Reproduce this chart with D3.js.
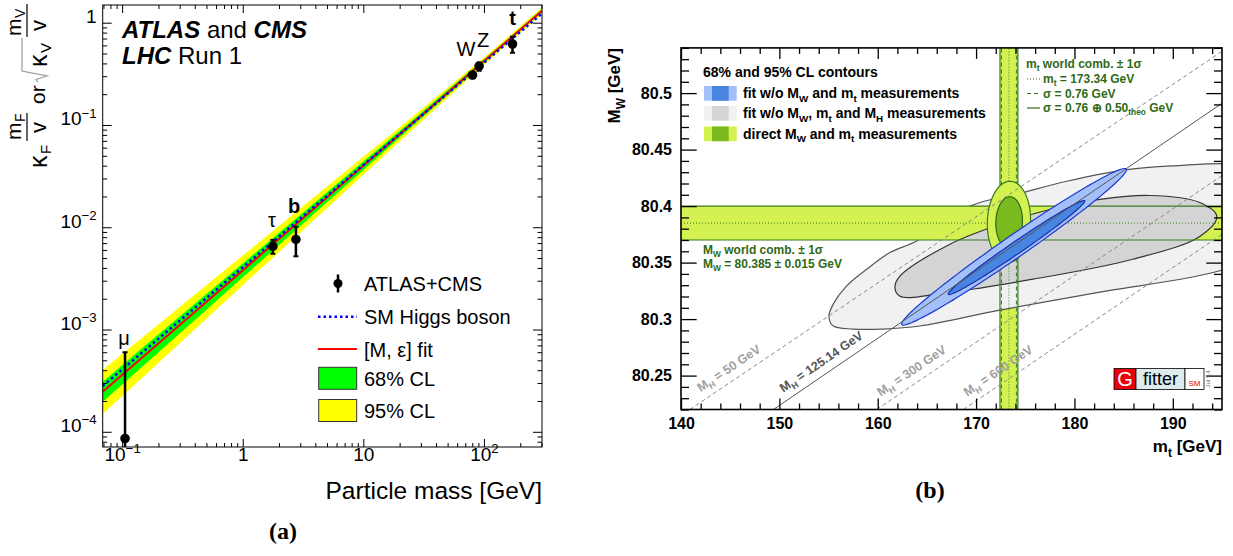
<!DOCTYPE html>
<html>
<head>
<meta charset="utf-8">
<script src="https://cdn.jsdelivr.net/npm/d3@7/dist/d3.min.js"></script>
<style>
html,body{margin:0;padding:0;background:#fff;}
svg{display:block;}
</style>
</head>
<body>
<svg id="chart" width="1233" height="556" xmlns="http://www.w3.org/2000/svg"></svg>
<script>
// ================= Panel (a) data =================
const particleNames = ["μ", "τ", "b", "W", "Z", "t"];
const particleMass = [0.1057, 1.777, 2.76, 80.39, 91.19, 172.5];
const particleCoupling = [8.6e-5, 6.5e-3, 7.6e-3, 0.308, 0.377, 0.619];
const couplingHi = [6.0e-4, 7.5e-3, 1.01e-2, 0.330, 0.406, 0.730];
const couplingLo = [5.0e-5, 5.5e-3, 5.2e-3, 0.286, 0.340, 0.509];
const particleLabelBold = [false, false, true, false, false, true];
const bandMass = [0.06, 0.3, 1, 3, 10, 30, 100, 350];
const band95Lo = [1.29e-4, 7.36e-4, 2.71e-3, 8.89e-3, 3.27e-2, 0.1067, 0.386, 1.41];
const band95Hi = [3.51e-4, 1.656e-3, 5.28e-3, 1.524e-2, 4.88e-2, 0.1413, 0.458, 1.632];
const band68Lo = [1.69e-4, 9.12e-4, 3.24e-3, 1.026e-2, 3.63e-2, 0.1148, 0.404, 1.466];
const band68Hi = [2.68e-4, 1.337e-3, 4.43e-3, 1.321e-2, 4.39e-2, 0.1312, 0.4385, 1.568];
const fitM = 233, fitEps = 0.023, vev = 246.22;
const massDomain = [0.069, 303];
const couplingDomain = [7.1e-5, 1.49];
const massTicks = [0.1, 1, 10, 100];
const massTickBase = ["10", "1", "10", "10"];
const massTickExp = ["−1", "", "", "2"];
const couplingTicks = [1e-4, 1e-3, 1e-2, 1e-1, 1];
const couplingTickBase = ["10", "10", "10", "10", "1"];
const couplingTickExp = ["−4", "−3", "−2", "−1", ""];
const legendALabels = ["ATLAS+CMS", "SM Higgs boson", "[M, ε] fit", "68% CL", "95% CL"];

// ================= Panel (b) data =================
const mtDomain = [140, 195];
const mwDomain = [80.22, 80.54];
const mtTicks = [140, 150, 160, 170, 180, 190];
const mwTicks = [80.25, 80.3, 80.35, 80.4, 80.45, 80.5];
const mwTickLabels = ["80.25", "80.3", "80.35", "80.4", "80.45", "80.5"];
const mwWorld = 80.385, mwWorldErr = 0.015;
const mtWorld = 173.34, mtErrExp = 0.76, mtErrTheo = 0.50;
const higgsLabels = ["50", "125.14", "300", "600"];
const higgsStartMt = [140.9, 149.4, 159.9, 168.7];
const higgsEndMw = [80.537, 80.491, 80.427, 80.375];
const higgsLabelMt = [142.0, 150.4, 160.3, 169.1];
const higgsSolid = [false, true, false, false];
const gray95 = [[155.04,80.3026],[155.48,80.3133],[156.84,80.3294],[158.87,80.3441],[161.24,80.3589],[163.95,80.3691],[169.4,80.400],[174.76,80.412],[179.23,80.422],[185.33,80.4323],[191.02,80.4361],[194.98,80.4376],[198.8,80.436],[201.9,80.406],[199.9,80.362],[194.98,80.3432],[182.58,80.3239],[172.42,80.3080],[164.29,80.2939],[160.53,80.2912],[157.48,80.2912],[155.45,80.2941]];
const gray68 = [[161.75,80.328],[162.26,80.338],[167.34,80.3662],[172.42,80.3838],[177.5,80.397],[182.58,80.4059],[187.66,80.4094],[192.74,80.4032],[194.47,80.3909],[192.74,80.3732],[185.93,80.353],[175.77,80.3353],[167.34,80.3239],[162.26,80.3203]];
const blue95 = {mt: 173.86, mw: 80.364, sMt: 11.43, sMw: 0.0693, rho: 0.985};
const blue68 = {mt: 174.11, mw: 80.3633, sMt: 6.94, sMw: 0.0416, rho: 0.988};
const direct95 = {mt: 173.34, mw: 80.386, sMt: 2.2, sMw: 0.036, rho: 0.05};
const direct68 = {mt: 173.36, mw: 80.3858, sMt: 1.355, sMw: 0.0225, rho: 0.05};

// ================= helpers =================
const FONT = "'Liberation Sans', Arial, Helvetica, sans-serif";
const svg = d3.select("#chart");
const defs = svg.append("defs");

function rich(sel, parts, size) {
  let shift = 0;
  parts.forEach(p => {
    const target = p.sub ? 0.28 * size : (p.sup ? -0.42 * size : 0);
    const ts = sel.append("tspan").text(p.t).attr("dy", target - shift);
    if (p.sub || p.sup) ts.attr("font-size", size * 0.7);
    if (p.fill) ts.attr("fill", p.fill);
    if (p.weight) ts.attr("font-weight", p.weight);
    if (p.italic) ts.attr("font-style", "italic");
    shift = target;
  });
  return sel;
}
function vtext(g, x, y, str, size, extra) {
  const t = g.append("text").attr("transform", `translate(${x},${y}) rotate(-90)`)
    .attr("font-family", FONT).attr("font-size", size).text(str);
  if (extra) Object.entries(extra).forEach(([k, v]) => t.attr(k, v));
  return t;
}

// ================= Panel (a) =================
const gA = svg.append("g");
const xA = d3.scaleLog().domain(massDomain).range([102.7, 542]);
const yA = d3.scaleLog().domain(couplingDomain).range([447, 5]);
defs.append("clipPath").attr("id", "clipA").append("rect")
  .attr("x", xA.range()[0]).attr("y", yA.range()[1])
  .attr("width", xA.range()[1] - xA.range()[0]).attr("height", yA.range()[0] - yA.range()[1]);
const plotA = gA.append("g").attr("clip-path", "url(#clipA)");
const bandIdx = d3.range(bandMass.length);
const area95 = d3.area().x(i => xA(bandMass[i])).y0(i => yA(band95Lo[i])).y1(i => yA(band95Hi[i])).curve(d3.curveMonotoneX);
const area68 = d3.area().x(i => xA(bandMass[i])).y0(i => yA(band68Lo[i])).y1(i => yA(band68Hi[i])).curve(d3.curveMonotoneX);
plotA.append("path").attr("d", area95(bandIdx)).attr("fill", "#ffff00");
plotA.append("path").attr("d", area68(bandIdx)).attr("fill", "#00ff00");
const fitFn = m => Math.pow(m / fitM, 1 + fitEps);
const smFn = m => m / vev;
plotA.append("line").attr("x1", xA(massDomain[0])).attr("y1", yA(fitFn(massDomain[0])))
  .attr("x2", xA(massDomain[1])).attr("y2", yA(fitFn(massDomain[1])))
  .attr("stroke", "#ff0000").attr("stroke-width", 2);
plotA.append("line").attr("x1", xA(massDomain[0])).attr("y1", yA(smFn(massDomain[0])))
  .attr("x2", xA(massDomain[1])).attr("y2", yA(smFn(massDomain[1])))
  .attr("stroke", "#0000ff").attr("stroke-width", 2.5).attr("stroke-dasharray", "2.5,3");
// data points
particleMass.forEach((m, i) => {
  const x = xA(m);
  plotA.append("line").attr("x1", x).attr("x2", x).attr("y1", yA(couplingLo[i])).attr("y2", yA(couplingHi[i]))
    .attr("stroke", "#000").attr("stroke-width", 2.5);
  [couplingLo[i], couplingHi[i]].forEach(v => plotA.append("line").attr("x1", x - 2.5).attr("x2", x + 2.5)
    .attr("y1", yA(v)).attr("y2", yA(v)).attr("stroke", "#000").attr("stroke-width", 2));
  plotA.append("circle").attr("cx", x).attr("cy", yA(particleCoupling[i])).attr("r", 4.8).attr("fill", "#000");
});
// particle labels
const particleLabelPos = [[124, 345], [272, 227], [294, 213], [466, 56], [483, 47], [512.5, 25]];
particleNames.forEach((n, i) => {
  gA.append("text").attr("x", particleLabelPos[i][0]).attr("y", particleLabelPos[i][1])
    .attr("text-anchor", "middle").attr("font-family", FONT).attr("font-size", 20)
    .attr("font-weight", particleLabelBold[i] ? "bold" : "normal").text(n);
});
// axes (a)
function majorMinorA(axisGen, scale, majors, sizeMaj, sizeMin, transform, withLabels) {
  const minors = scale.ticks().filter(v => !majors.some(M => Math.abs(M - v) / M < 1e-6));
  const g1 = gA.append("g").attr("transform", transform)
    .call(axisGen(scale).tickValues(minors).tickSize(-sizeMin).tickFormat(""));
  const g2 = gA.append("g").attr("transform", transform)
    .call(axisGen(scale).tickValues(majors).tickSize(-sizeMaj).tickPadding(withLabels ? withLabels : 3).tickFormat(""));
  [g1, g2].forEach(g => { g.select(".domain").remove(); g.selectAll("line").attr("stroke", "#000"); });
  return g2;
}
const axBottomA = majorMinorA(d3.axisBottom, xA, massTicks, 8, 4, `translate(0,${yA.range()[0]})`, 14);
majorMinorA(d3.axisTop, xA, massTicks, 8, 4, `translate(0,${yA.range()[1]})`);
const axLeftA = majorMinorA(d3.axisLeft, yA, couplingTicks, 9, 4.5, `translate(${xA.range()[0]},0)`, 6);
majorMinorA(d3.axisRight, yA, couplingTicks, 9, 4.5, `translate(${xA.range()[1]},0)`);
axBottomA.selectAll(".tick text").each(function (d, i) {
  const t = d3.select(this).attr("font-family", FONT).attr("font-size", 19).attr("fill", "#000");
  rich(t, massTickExp[i] ? [{t: massTickBase[i]}, {t: massTickExp[i], sup: true}] : [{t: massTickBase[i]}], 19);
});
axLeftA.selectAll(".tick text").each(function (d, i) {
  const t = d3.select(this).attr("font-family", FONT).attr("font-size", 19).attr("fill", "#000");
  rich(t, couplingTickExp[i] ? [{t: couplingTickBase[i]}, {t: couplingTickExp[i], sup: true}] : [{t: couplingTickBase[i]}], 19);
});
gA.append("rect").attr("x", xA.range()[0]).attr("y", yA.range()[1])
  .attr("width", xA.range()[1] - xA.range()[0]).attr("height", yA.range()[0] - yA.range()[1])
  .attr("fill", "none").attr("stroke", "#000").attr("stroke-width", 1);
// titles (a)
rich(gA.append("text").attr("x", 122).attr("y", 38).attr("font-family", FONT).attr("font-size", 24),
  [{t: "ATLAS", weight: "bold", italic: true}, {t: " and "}, {t: "CMS", weight: "bold", italic: true}], 24);
rich(gA.append("text").attr("x", 122).attr("y", 64).attr("font-family", FONT).attr("font-size", 24),
  [{t: "LHC", weight: "bold", italic: true}, {t: "  Run 1"}], 24);
gA.append("text").attr("x", 542).attr("y", 499).attr("text-anchor", "end")
  .attr("font-family", FONT).attr("font-size", 24.5).text("Particle mass [GeV]");
// y title (a)
vtext(gA, 47, 168, "κ", 25);
vtext(gA, 51, 154, "F", 15);
vtext(gA, 21, 140, "m", 21);
vtext(gA, 25, 122, "F", 14);
gA.append("line").attr("x1", 27).attr("x2", 27).attr("y1", 113).attr("y2", 141).attr("stroke", "#000").attr("stroke-width", 1.2);
vtext(gA, 46, 133, "v", 22);
vtext(gA, 45, 104, "or", 21);
gA.append("path").attr("d", "M38,82 L36,79.5 L47,76 L22,71 L22,38").attr("fill", "none").attr("stroke", "#999").attr("stroke-width", 1.2);
vtext(gA, 47, 67, "κ", 25);
vtext(gA, 51, 53, "V", 15);
vtext(gA, 21, 36, "m", 21);
vtext(gA, 25, 18, "V", 14);
gA.append("line").attr("x1", 27).attr("x2", 27).attr("y1", 4).attr("y2", 37).attr("stroke", "#000").attr("stroke-width", 1.2);
vtext(gA, 46, 31, "v", 22);
// legend (a)
const legAY = [283.5, 316.7, 349, 378.3, 410.5];
legAY.forEach((y, i) => {
  gA.append("text").attr("x", 364).attr("y", y + 7.5).attr("font-family", FONT).attr("font-size", 20).text(legendALabels[i]);
});
gA.append("line").attr("x1", 338).attr("x2", 338).attr("y1", legAY[0] - 9).attr("y2", legAY[0] + 9).attr("stroke", "#000").attr("stroke-width", 2.5);
gA.append("circle").attr("cx", 338).attr("cy", legAY[0]).attr("r", 4.5).attr("fill", "#000");
gA.append("line").attr("x1", 318).attr("x2", 357).attr("y1", legAY[1]).attr("y2", legAY[1]).attr("stroke", "#0000ff").attr("stroke-width", 2.5).attr("stroke-dasharray", "2.5,3");
gA.append("line").attr("x1", 318).attr("x2", 357).attr("y1", legAY[2]).attr("y2", legAY[2]).attr("stroke", "#ff0000").attr("stroke-width", 2);
gA.append("rect").attr("x", 318.7).attr("y", legAY[3] - 11).attr("width", 38).attr("height", 22).attr("fill", "#00ff00").attr("stroke", "#333").attr("stroke-width", 1);
gA.append("rect").attr("x", 318.7).attr("y", legAY[4] - 11).attr("width", 38).attr("height", 22).attr("fill", "#ffff00").attr("stroke", "#333").attr("stroke-width", 1);
gA.append("text").attr("x", 283).attr("y", 539).attr("text-anchor", "middle").attr("font-family", "'Liberation Serif', 'DejaVu Serif', serif").attr("font-weight", "bold").attr("font-size", 24).text("(a)");

// ================= Panel (b) =================
const gB = svg.append("g");
const xB = d3.scaleLinear().domain(mtDomain).range([681, 1222]);
const yB = d3.scaleLinear().domain(mwDomain).range([409.5, 47.9]);
defs.append("clipPath").attr("id", "clipB").append("rect")
  .attr("x", xB.range()[0]).attr("y", yB.range()[1])
  .attr("width", xB.range()[1] - xB.range()[0]).attr("height", yB.range()[0] - yB.range()[1]);
const plotB = gB.append("g").attr("clip-path", "url(#clipB)");
const YG_LIGHT = "#d3f150", YG_DARK = "#7bba1e", GREEN_LINE = "#3a7a1f", GREEN_TEXT = "#2f6a16";
const mtErrTot = Math.sqrt(mtErrExp * mtErrExp + mtErrTheo * mtErrTheo);
// vertical band (mt)
plotB.append("rect").attr("x", xB(mtWorld - mtErrTot)).attr("y", yB.range()[1])
  .attr("width", xB(mtWorld + mtErrTot) - xB(mtWorld - mtErrTot)).attr("height", yB.range()[0] - yB.range()[1]).attr("fill", YG_LIGHT);
// gray contours
const closedLine = d3.line().x(d => xB(d[0])).y(d => yB(d[1])).curve(d3.curveCatmullRomClosed.alpha(0.5));
plotB.append("path").attr("d", closedLine(gray95)).attr("fill", "#f1f1f1").attr("stroke", "#555").attr("stroke-width", 1.2);
// horizontal band (MW)
plotB.append("rect").attr("x", xB.range()[0]).attr("y", yB(mwWorld + mwWorldErr))
  .attr("width", xB.range()[1] - xB.range()[0]).attr("height", yB(mwWorld - mwWorldErr) - yB(mwWorld + mwWorldErr)).attr("fill", YG_LIGHT);
plotB.append("path").attr("d", closedLine(gray68)).attr("fill", "#d4d4d4").attr("stroke", "#333").attr("stroke-width", 1.2);
// band lines
[mwWorld - mwWorldErr, mwWorld + mwWorldErr].forEach(v => plotB.append("line").attr("x1", xB.range()[0]).attr("x2", xB.range()[1])
  .attr("y1", yB(v)).attr("y2", yB(v)).attr("stroke", GREEN_LINE).attr("stroke-width", 1.2));
plotB.append("line").attr("x1", xB.range()[0]).attr("x2", xB.range()[1]).attr("y1", yB(mwWorld)).attr("y2", yB(mwWorld))
  .attr("stroke", GREEN_LINE).attr("stroke-width", 1).attr("stroke-dasharray", "1,2");
[mtWorld - mtErrTot, mtWorld + mtErrTot].forEach(v => plotB.append("line").attr("y1", yB.range()[0]).attr("y2", yB.range()[1])
  .attr("x1", xB(v)).attr("x2", xB(v)).attr("stroke", GREEN_LINE).attr("stroke-width", 1.2));
[mtWorld - mtErrExp, mtWorld + mtErrExp].forEach(v => plotB.append("line").attr("y1", yB.range()[0]).attr("y2", yB.range()[1])
  .attr("x1", xB(v)).attr("x2", xB(v)).attr("stroke", GREEN_LINE).attr("stroke-width", 1).attr("stroke-dasharray", "4,3"));
plotB.append("line").attr("y1", yB.range()[0]).attr("y2", yB.range()[1]).attr("x1", xB(mtWorld)).attr("x2", xB(mtWorld))
  .attr("stroke", GREEN_LINE).attr("stroke-width", 1).attr("stroke-dasharray", "1,2");
// ellipses
function ellipsePath(e) {
  const pts = d3.range(0, 360, 3).map(a => {
    const t = a * Math.PI / 180;
    return [e.mt + e.sMt * Math.cos(t), e.mw + e.sMw * (e.rho * Math.cos(t) + Math.sqrt(1 - e.rho * e.rho) * Math.sin(t))];
  });
  return d3.line().x(d => xB(d[0])).y(d => yB(d[1]))(pts) + "Z";
}
plotB.append("path").attr("d", ellipsePath(direct95)).attr("fill", YG_LIGHT).attr("stroke", GREEN_LINE).attr("stroke-width", 1.2);
plotB.append("path").attr("d", ellipsePath(direct68)).attr("fill", YG_DARK).attr("stroke", "#2c6a14").attr("stroke-width", 1.2);
plotB.append("path").attr("d", ellipsePath(blue95)).attr("fill", "#a3c0fa").attr("stroke", "#1a3ad0").attr("stroke-width", 1.2);
plotB.append("path").attr("d", ellipsePath(blue68)).attr("fill", "#4785e0").attr("stroke", "#1a2fa8").attr("stroke-width", 1.2);
// Higgs mass lines
higgsLabels.forEach((lab, i) => {
  const x1 = xB(higgsStartMt[i]), y1 = yB(mwDomain[0]), x2 = xB(mtDomain[1]), y2 = yB(higgsEndMw[i]);
  plotB.append("line").attr("x1", x1).attr("y1", y1).attr("x2", x2).attr("y2", y2)
    .attr("stroke", higgsSolid[i] ? "#555" : "#888").attr("stroke-width", 1)
    .attr("stroke-dasharray", higgsSolid[i] ? null : "4,3");
  const ang = Math.atan2(y2 - y1, x2 - x1) * 180 / Math.PI;
  const frac = (higgsLabelMt[i] - higgsStartMt[i]) / (mtDomain[1] - higgsStartMt[i]);
  const lx = xB(higgsLabelMt[i]), ly = yB(mwDomain[0] + frac * (higgsEndMw[i] - mwDomain[0]));
  const t = plotB.append("text").attr("transform", `translate(${lx},${ly - 10}) rotate(${ang})`)
    .attr("font-family", FONT).attr("font-size", 12.5).attr("font-weight", "bold")
    .attr("fill", higgsSolid[i] ? "#555" : "#a0a0a0");
  rich(t, [{t: "M"}, {t: "H", sub: true}, {t: " = " + lab + " GeV"}], 12.5);
});
// axes (b)
function majorMinorB(axisGen, scale, majors, minors, sizeMaj, sizeMin, transform, pad) {
  const g1 = gB.append("g").attr("transform", transform)
    .call(axisGen(scale).tickValues(minors).tickSize(-sizeMin).tickFormat(""));
  const g2 = gB.append("g").attr("transform", transform)
    .call(axisGen(scale).tickValues(majors).tickSize(-sizeMaj).tickPadding(pad || 3).tickFormat(""));
  [g1, g2].forEach(g => { g.select(".domain").remove(); g.selectAll("line").attr("stroke", "#000").attr("stroke-width", 1.3); });
  return g2;
}
const mtMinor = xB.ticks(27).filter(v => !mtTicks.includes(v));
const mwMinor = yB.ticks(32).filter(v => !mwTicks.some(M => Math.abs(M - v) < 1e-6));
const axBottomB = majorMinorB(d3.axisBottom, xB, mtTicks, mtMinor, 11, 6, `translate(0,${yB.range()[0]})`, 8);
majorMinorB(d3.axisTop, xB, mtTicks, mtMinor, 11, 6, `translate(0,${yB.range()[1]})`);
const axLeftB = majorMinorB(d3.axisLeft, yB, mwTicks, mwMinor, 15.7, 8, `translate(${xB.range()[0]},0)`, 9);
majorMinorB(d3.axisRight, yB, mwTicks, mwMinor, 15.7, 8, `translate(${xB.range()[1]},0)`);
axBottomB.selectAll(".tick text").each(function (d, i) {
  d3.select(this).attr("font-family", FONT).attr("font-size", 16).attr("font-weight", "bold").attr("fill", "#000").text(mtTicks[i]);
});
axLeftB.selectAll(".tick text").each(function (d, i) {
  d3.select(this).attr("font-family", FONT).attr("font-size", 16).attr("font-weight", "bold").attr("fill", "#000").text(mwTickLabels[i]);
});
gB.append("rect").attr("x", xB.range()[0]).attr("y", yB.range()[1])
  .attr("width", xB.range()[1] - xB.range()[0]).attr("height", yB.range()[0] - yB.range()[1])
  .attr("fill", "none").attr("stroke", "#000").attr("stroke-width", 1.6);
// axis titles (b)
rich(gB.append("text").attr("x", 1222).attr("y", 452).attr("text-anchor", "end").attr("font-family", FONT)
  .attr("font-size", 17).attr("font-weight", "bold"), [{t: "m"}, {t: "t", sub: true}, {t: " [GeV]"}], 17);
rich(gB.append("text").attr("transform", "translate(620,48) rotate(-90)").attr("text-anchor", "end").attr("font-family", FONT)
  .attr("font-size", 17).attr("font-weight", "bold"), [{t: "M"}, {t: "W", sub: true}, {t: " [GeV]"}], 17);
// legend (b) left
gB.append("text").attr("x", 703).attr("y", 77).attr("font-family", FONT).attr("font-size", 14).attr("font-weight", "bold").text("68% and 95% CL contours");
const legBRows = [
  {y: 86, light: "#a3c0fa", dark: "#4785e0", parts: [{t: "fit w/o M"}, {t: "W", sub: true}, {t: " and m"}, {t: "t", sub: true}, {t: " measurements"}]},
  {y: 106, light: "#f1f1f1", dark: "#d4d4d4", parts: [{t: "fit w/o M"}, {t: "W", sub: true}, {t: ", m"}, {t: "t", sub: true}, {t: " and M"}, {t: "H", sub: true}, {t: " measurements"}]},
  {y: 126.5, light: YG_LIGHT, dark: YG_DARK, parts: [{t: "direct M"}, {t: "W", sub: true}, {t: " and m"}, {t: "t", sub: true}, {t: " measurements"}]}
];
legBRows.forEach(r => {
  gB.append("rect").attr("x", 704).attr("y", r.y).attr("width", 32.7).attr("height", 14.7).attr("fill", r.light);
  gB.append("rect").attr("x", 712).attr("y", r.y).attr("width", 16.7).attr("height", 14.7).attr("fill", r.dark);
  rich(gB.append("text").attr("x", 743).attr("y", r.y + 12).attr("font-family", FONT).attr("font-size", 14).attr("font-weight", "bold"), r.parts, 14);
});
// legend (b) right (mt)
const gl = gB.append("g").attr("font-family", FONT).attr("font-size", 12).attr("font-weight", "bold").attr("fill", GREEN_TEXT);
rich(gl.append("text").attr("x", 1026).attr("y", 68), [{t: "m"}, {t: "t", sub: true}, {t: " world comb. ± 1σ"}], 12);
rich(gl.append("text").attr("x", 1043).attr("y", 83), [{t: "m"}, {t: "t", sub: true}, {t: " = " + mtWorld.toFixed(2) + " GeV"}], 12);
rich(gl.append("text").attr("x", 1043).attr("y", 97.5), [{t: "σ = " + mtErrExp.toFixed(2) + " GeV"}], 12);
rich(gl.append("text").attr("x", 1043).attr("y", 112), [{t: "σ = " + mtErrExp.toFixed(2) + " ⊕ " + mtErrTheo.toFixed(2)}, {t: "theo", sub: true}, {t: " GeV"}], 12);
gB.append("line").attr("x1", 1027).attr("x2", 1040).attr("y1", 79).attr("y2", 79).attr("stroke", GREEN_TEXT).attr("stroke-width", 1).attr("stroke-dasharray", "1,2");
gB.append("line").attr("x1", 1027).attr("x2", 1040).attr("y1", 93.5).attr("y2", 93.5).attr("stroke", GREEN_TEXT).attr("stroke-width", 1.2).attr("stroke-dasharray", "4,3");
gB.append("line").attr("x1", 1027).attr("x2", 1040).attr("y1", 108).attr("y2", 108).attr("stroke", GREEN_TEXT).attr("stroke-width", 1.2);
// legend (b) MW
rich(gl.append("text").attr("x", 703).attr("y", 254), [{t: "M"}, {t: "W", sub: true}, {t: " world comb. ± 1σ"}], 12);
rich(gl.append("text").attr("x", 703).attr("y", 268), [{t: "M"}, {t: "W", sub: true}, {t: " = " + mwWorld.toFixed(3) + " ± " + mwWorldErr.toFixed(3) + " GeV"}], 12);
// Gfitter logo
gB.append("rect").attr("x", 1114).attr("y", 368.5).attr("width", 22).attr("height", 21).attr("fill", "#e8000b").attr("stroke", "#000").attr("stroke-width", 0.8);
gB.append("rect").attr("x", 1136).attr("y", 368.5).attr("width", 49).attr("height", 21).attr("fill", "#dcecec").attr("stroke", "#000").attr("stroke-width", 0.8);
gB.append("rect").attr("x", 1185).attr("y", 368.5).attr("width", 19).attr("height", 21).attr("fill", "#fff").attr("stroke", "#000").attr("stroke-width", 0.8);
gB.append("text").attr("x", 1125).attr("y", 386).attr("text-anchor", "middle").attr("font-family", FONT).attr("font-size", 20).attr("fill", "#fff").text("G");
gB.append("text").attr("x", 1160.5).attr("y", 385).attr("text-anchor", "middle").attr("font-family", FONT).attr("font-size", 18).attr("fill", "#000").text("fitter");
gB.append("text").attr("x", 1194.5).attr("y", 386).attr("text-anchor", "middle").attr("font-family", FONT).attr("font-size", 8).attr("fill", "#e8000b").text("SM");
gB.append("text").attr("transform", "translate(1210,379) rotate(-90)").attr("text-anchor", "middle").attr("font-family", FONT).attr("font-size", 6).attr("fill", "#666").text("Jul '14");
gB.append("text").attr("x", 930).attr("y", 498).attr("text-anchor", "middle").attr("font-family", "'Liberation Serif', 'DejaVu Serif', serif").attr("font-weight", "bold").attr("font-size", 24).text("(b)");
</script>
</body>
</html>
